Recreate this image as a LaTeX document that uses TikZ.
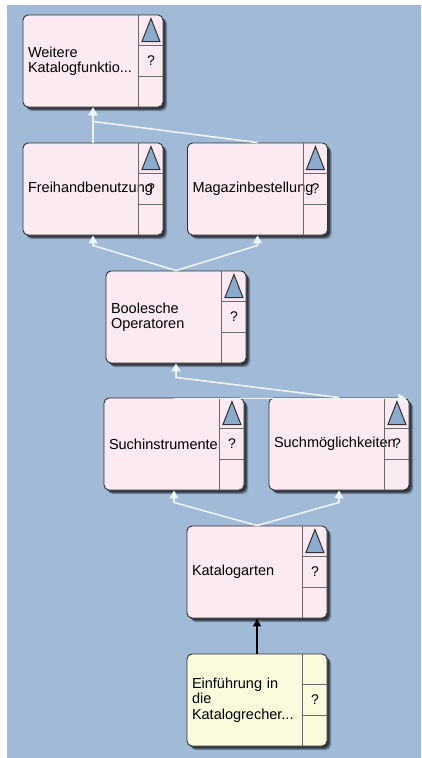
\documentclass[tikz,border=0pt]{standalone}
\usepackage{fontspec}
\setmainfont{Liberation Sans}
\usetikzlibrary{arrows.meta,calc,shadows}

\definecolor{bgblue}{HTML}{A0BAD8}
\definecolor{cardpink}{HTML}{FCEAF2}
\definecolor{cardyellow}{HTML}{FAFADC}
\definecolor{boxline}{HTML}{303030}
\definecolor{cellline}{HTML}{6A6A6A}
\definecolor{trifill}{HTML}{8CAACD}
\definecolor{linkcol}{HTML}{EEF4FA}

\tikzset{
  card/.style={draw=boxline, line width=0.9pt, rounded corners=5pt, fill=cardpink,
    minimum width=140pt, minimum height=92pt, text width=130pt,
    inner xsep=5pt, inner ysep=0pt, align=left,
    font=\fontsize{14.5}{15.5}\selectfont,
    drop shadow={shadow xshift=4pt, shadow yshift=-4pt, opacity=0.3, fill=black},
    drop shadow={shadow xshift=2.5pt, shadow yshift=-2.5pt, opacity=0.55, fill=black}},
  startcard/.style={card, fill=cardyellow},
  divider/.style={draw=cellline, line width=0.9pt},
  qmark/.style={font=\fontsize{14}{15}\selectfont, inner sep=0pt},
  tri/.style={draw=boxline, line width=1pt, fill=trifill, line join=miter},
  link/.style={draw=linkcol, line width=1.6pt, -{Triangle[width=9pt,length=8pt]}},
  mainlink/.style={draw=black, line width=1.5pt, -{Triangle[width=8pt,length=8pt]}}
}

\begin{document}
\begin{tikzpicture}[x=1pt,y=-1pt]
  % page and backdrop
  \fill[white] (0,0) rectangle (421,758);
  \fill[bgblue] (7,5) rectangle (421,758);
  \useasboundingbox (0,0) rectangle (421,758);

  % topic cards
  \node[card] (W)  at (93,61)    {Weitere\\Katalogfunktio...};
  \node[card] (F)  at (93,189)   {Freihandbenutzung};
  \node[card] (M)  at (257.5,189) {Magazinbestellung};
  \node[card] (B)  at (176,317)  {Boolesche\\Operatoren};
  \node[card] (S1) at (174,444)  {Suchinstrumente};
  \node[card] (S2) at (339,444)  {Suchmöglichkeiten};
  \node[card] (K)  at (257,572)  {Katalogarten};
  \node[startcard] (E) at (257,700) {Einführung in\\die\\Katalogrecher...};

  % right-hand control column of every card
  \foreach \n in {W,F,M,B,S1,S2,K,E}{
    \draw[divider] ($(\n.north east)+(-25,0)$) -- ($(\n.south east)+(-25,0)$);
    \draw[divider] ($(\n.north east)+(-25,31)$) -- ($(\n.north east)+(0,31)$);
    \draw[divider] ($(\n.north east)+(-25,62)$) -- ($(\n.north east)+(0,62)$);
    \node[qmark] (\n-q) at ($(\n.north east)+(-12.5,46.5)$) {?};
  }
  \foreach \n in {W,F,M,B,S1,S2,K}{
    \draw[tri] ($(\n.north east)+(-12.5,4)$) -- ($(\n.north east)+(-3.5,27)$)
      -- ($(\n.north east)+(-21.5,27)$) -- cycle;
  }

  % links between the cards
  \coordinate (S2tip) at ($(S2.north east)+(-3,1)$);
  \draw[link] (F.north) -- (W.south);
  \draw[link] (M.north) -- ($(W.south)+(0,14)$) -- (W.south);
  \draw[link] (B.north) -- ($(F.south)+(0,10)$) -- (F.south);
  \draw[link] (B.north) -- ($(M.south)+(0,10)$) -- (M.south);
  \draw[link] (S2.north) -- ($(B.south)+(0,14)$) -- (B.south);
  \draw[link] ($(S1.north)+(0,1)$) -- (S2tip);
  \draw[link] (K.north) -- ($(S1.south)+(0,12)$) -- (S1.south);
  \draw[link] (K.north) -- ($(S2.south)+(0,12)$) -- (S2.south);
  \draw[mainlink] (E.north) -- (K.south);
\end{tikzpicture}
\end{document}
